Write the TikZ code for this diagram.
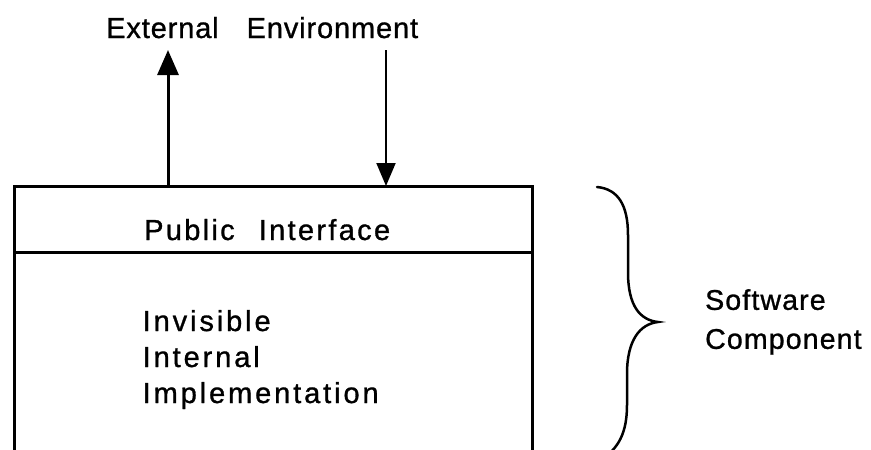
\documentclass[tikz,border=0pt]{standalone}
\usepackage{fontspec}
\setmainfont{Liberation Sans}[LetterSpace=10, FakeBold=1]
\newfontfamily\headfont{Liberation Sans}[LetterSpace=3, FakeBold=1]
\newfontfamily\sidefont{Liberation Sans}[LetterSpace=4, FakeBold=1]
\newfontfamily\ifacefont{Liberation Sans}[LetterSpace=8, FakeBold=1]
\usetikzlibrary{arrows.meta}
\tikzset{
  lbl/.style={inner sep=0pt, font=\fontsize{29}{36}\selectfont},
  headlbl/.style={inner sep=0pt, font=\headfont\fontsize{29}{36}\selectfont},
  ifacelbl/.style={inner sep=0pt, font=\ifacefont\fontsize{29}{36}\selectfont},
  sidelbl/.style={inner sep=0pt, font=\sidefont\fontsize{28.5}{39}\selectfont},
  frame/.style={draw, line width=3pt},
  outflow/.style={line width=3pt, -{Triangle[length=25pt 0, width=21pt 0]}},
  inflow/.style={line width=2pt, -{Triangle[length=23pt 0, width=19pt 0]}},
  bracestroke/.style={line width=2.5pt, line cap=round}
}
\begin{document}
\begin{tikzpicture}[x=1pt, y=-1pt]
  \useasboundingbox (0,0) rectangle (871,450);
  \clip (0,0) rectangle (871,450);

  % component: interface strip on top, open-bottomed body below
  \node[frame, outer sep=0pt, inner sep=0pt, minimum width=518pt, minimum height=66pt,
        anchor=north west] (iface) at (14,186) {};
  \draw[frame] (iface.south west) -- ++(0,215);
  \draw[frame] (iface.south east) -- ++(0,215);

  % labels
  \node[headlbl, anchor=base west] (env) at (106,38) {External\hspace{28pt}Environment};
  \node[ifacelbl, anchor=base west] (pubtext) at (144,240) {Public\hspace{24pt}Interface};
  \node[lbl, anchor=north west, align=left] (impl) at (142.5,309.8)
        {Invisible\\Internal\\Implementation};
  \node[sidelbl, anchor=north west, align=left] (comp) at (705,289)
        {Software\\Component};

  % traffic between the interface and the environment
  \coordinate (outtip) at (168,50);
  \coordinate (intail) at (386,50);
  \draw[outflow] (iface.north -| outtip) -- (outtip);
  \draw[inflow] (intail) -- (iface.north -| intail);

  % brace gathering the whole component
  \draw[bracestroke] (597,187) .. controls (618,189) and (628,205) .. (628,235)
        -- (628,272) .. controls (628,306) and (640,320) .. (658,322)
        .. controls (640,324) and (627,340) .. (627,374)
        -- (627,405) .. controls (627,432) and (619,449) .. (600,460);
\end{tikzpicture}
\end{document}
